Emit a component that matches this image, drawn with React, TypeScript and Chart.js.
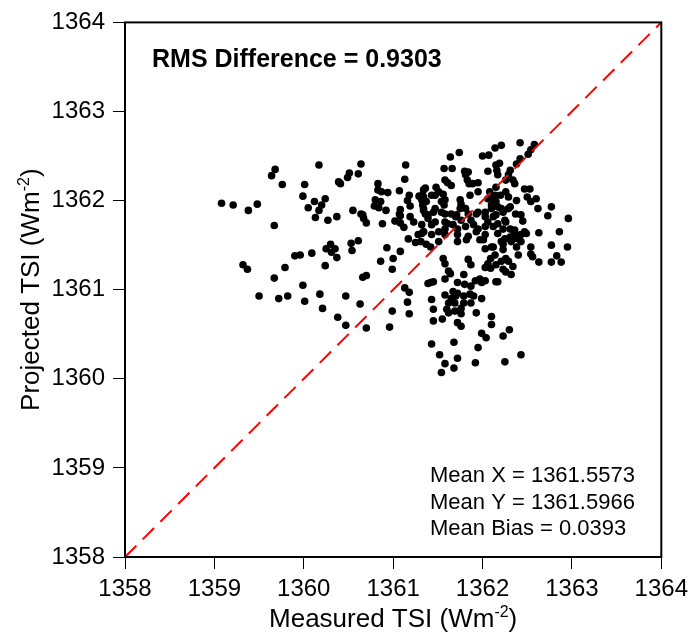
import React, { useEffect, useRef } from "react";
import { Chart, registerables } from "chart.js";

Chart.register(...registerables);

const measured: number[] = [
  1359.08, 1359.21, 1359.38, 1359.48, 1359.68, 1359.64, 1359.76, 1359.67, 1360.01, 1360.17,
  1359.99, 1360.12, 1360.24, 1360.20, 1360.05, 1360.17, 1360.13, 1360.27, 1360.37, 1359.90,
  1359.96, 1360.09, 1360.25, 1360.30, 1360.35, 1360.31, 1360.37, 1359.32, 1359.37, 1359.79,
  1360.24, 1359.67, 1359.99, 1359.50, 1359.72, 1359.82, 1360.18, 1360.01, 1360.21, 1360.38,
  1360.64, 1360.51, 1360.49, 1360.61, 1360.39, 1360.41, 1361.14, 1361.13, 1360.83, 1360.83,
  1360.87, 1360.94, 1361.07, 1361.18, 1361.29, 1361.33, 1360.80, 1360.86, 1361.16, 1360.79,
  1360.84, 1360.92, 1361.19, 1361.33, 1361.34, 1361.08, 1361.07, 1361.08, 1361.19, 1361.23,
  1361.36, 1360.55, 1360.64, 1360.66, 1360.67, 1360.70, 1360.88, 1361.02, 1361.08, 1361.12,
  1361.28, 1361.32, 1361.34, 1361.25, 1361.31, 1361.17, 1360.53, 1360.61, 1360.54, 1360.93,
  1361.08, 1361.00, 1360.86, 1360.99, 1360.66, 1360.70, 1361.39, 1361.13, 1361.18, 1360.47,
  1360.63, 1361.16, 1360.99, 1361.18, 1360.47, 1360.70, 1360.96, 1362.21, 1362.14, 1362.07,
  1362.00, 1361.74, 1361.64, 1362.19, 1362.15, 1362.16, 1362.17, 1361.57, 1361.66, 1361.80,
  1361.84, 1361.81, 1361.83, 1361.85, 1361.89, 1361.95, 1362.06, 1361.61, 1361.58, 1361.36,
  1361.34, 1361.48, 1361.51, 1361.47, 1361.43, 1361.86, 1361.95, 1362.08, 1362.14, 1362.11,
  1362.26, 1362.26, 1361.75, 1361.76, 1361.75, 1361.58, 1361.54, 1361.57, 1361.34, 1361.32,
  1361.37, 1362.15, 1362.17, 1361.47, 1361.45, 1361.54, 1361.58, 1361.34, 1361.65, 1361.71,
  1361.84, 1361.93, 1362.03, 1362.10, 1362.15, 1362.12,
  1361.39, 1361.47, 1361.43, 1361.58, 1361.61, 1361.58, 1361.67, 1361.72, 1361.76, 1361.87,
  1361.90, 1361.95, 1362.03, 1362.06, 1362.12, 1362.17, 1362.23, 1362.25,
  1361.34, 1361.43, 1361.51, 1361.58, 1361.72, 1361.84, 1361.93, 1362.03, 1362.17, 1362.25,
  1361.72, 1362.01, 1362.12, 1362.21, 1361.42, 1361.56, 1361.58, 1361.84, 1361.87, 1362.03,
  1362.14, 1362.09, 1362.06, 1362.03, 1362.09, 1362.15, 1362.21, 1362.23, 1362.26, 1362.26,
  1361.62, 1361.64, 1361.58, 1361.45, 1361.42, 1361.79, 1361.72, 1361.80, 1361.87, 1361.92,
  1361.97, 1361.99, 1362.03, 1362.15,
  1361.67, 1361.72, 1361.70, 1361.79, 1361.86, 1361.90, 1361.65, 1361.62, 1361.69, 1361.79,
  1361.87, 1361.99, 1361.43, 1361.58, 1361.45, 1361.60, 1361.62, 1361.69, 1361.76, 1361.76,
  1361.93, 1361.45, 1361.55, 1361.72, 1361.76, 1362.10, 1362.10, 1361.99, 1362.04, 1362.23,
  1362.30, 1361.43, 1361.68, 1361.95, 1361.52, 1361.58, 1361.72, 1361.68, 1361.54, 1361.92,
  1362.25, 1362.43,
  1362.42, 1362.58, 1362.54, 1362.51, 1362.42, 1362.38, 1362.31, 1362.29, 1362.34, 1362.36,
  1362.47, 1362.53, 1362.50, 1362.54, 1362.60, 1362.62, 1362.38, 1362.29, 1362.37, 1362.43,
  1362.23, 1362.77, 1362.73, 1362.96, 1362.26, 1362.36, 1362.45, 1362.43, 1362.47, 1362.63,
  1362.86, 1362.34, 1362.31, 1362.36, 1362.49, 1362.32, 1362.40, 1362.43, 1362.23, 1362.38,
  1362.40, 1362.54, 1362.54, 1362.56, 1362.77, 1362.95, 1362.83, 1362.88, 1362.77, 1362.63,
  1362.29, 1362.34, 1362.32, 1362.17,
  1361.65, 1362.15, 1361.56, 1362.06, 1362.20, 1362.29, 1361.81, 1361.95, 1362.10, 1362.21,
  1362.31, 1361.39, 1361.70, 1362.03, 1361.32, 1361.81, 1362.31, 1361.37, 1361.51, 1361.82,
  1361.97, 1362.10, 1362.23,
];

const projected: number[] = [
  1361.97, 1361.95, 1361.89, 1361.96, 1362.35, 1362.28, 1362.18, 1361.72, 1362.18, 1362.40,
  1362.05, 1361.99, 1362.02, 1361.95, 1361.92, 1361.89, 1361.81, 1361.78, 1361.82, 1361.38,
  1361.39, 1361.41, 1361.46, 1361.51, 1361.46, 1361.42, 1361.36, 1361.28, 1361.23, 1361.25,
  1361.27, 1361.13, 1361.05, 1360.93, 1360.90, 1360.93, 1360.95, 1360.87, 1360.79, 1360.69,
  1362.41, 1362.31, 1362.26, 1362.30, 1362.21, 1362.19, 1362.40, 1362.24, 1362.19, 1362.12,
  1362.10, 1362.09, 1362.11, 1362.06, 1362.05, 1362.06, 1362.01, 1361.99, 1362.00, 1361.94,
  1361.92, 1361.89, 1361.94, 1361.95, 1361.89, 1361.90, 1361.85, 1361.83, 1361.82, 1361.76,
  1361.85, 1361.89, 1361.85, 1361.84, 1361.80, 1361.75, 1361.74, 1361.77, 1361.75, 1361.70,
  1361.62, 1361.63, 1361.65, 1361.53, 1361.54, 1361.57, 1361.52, 1361.55, 1361.44, 1361.47,
  1361.43, 1361.35, 1361.32, 1361.23, 1361.14, 1361.16, 1361.07, 1361.02, 1360.97, 1360.93,
  1360.84, 1360.86, 1360.76, 1360.73, 1360.60, 1360.57, 1360.58, 1362.62, 1362.59, 1362.51,
  1362.50, 1362.54, 1362.49, 1362.42, 1362.40, 1362.34, 1362.29, 1362.36, 1362.36, 1362.33,
  1362.32, 1362.29, 1362.23, 1362.19, 1362.19, 1362.20, 1362.33, 1362.20, 1362.23, 1362.14,
  1362.12, 1362.15, 1362.10, 1362.06, 1362.06, 1362.06, 1362.10, 1362.10, 1362.06, 1362.02,
  1362.23, 1362.10, 1362.01, 1361.96, 1361.91, 1362.01, 1361.99, 1361.95, 1362.04, 1362.01,
  1361.99, 1361.99, 1361.93, 1361.91, 1361.87, 1361.87, 1361.85, 1361.91, 1361.85, 1361.84,
  1361.85, 1361.85, 1361.87, 1361.91, 1361.84, 1361.82,
  1361.80, 1361.76, 1361.73, 1361.76, 1361.74, 1361.68, 1361.73, 1361.68, 1361.78, 1361.78,
  1361.73, 1361.68, 1361.71, 1361.76, 1361.71, 1361.74, 1361.68, 1361.78,
  1361.65, 1361.62, 1361.65, 1361.62, 1361.62, 1361.60, 1361.65, 1361.62, 1361.63, 1361.57,
  1361.54, 1361.56, 1361.48, 1361.54, 1361.48, 1361.35, 1361.29, 1361.34, 1361.28, 1361.46,
  1361.39, 1361.35, 1361.29, 1361.25, 1361.24, 1361.28, 1361.32, 1361.23, 1361.35, 1361.20,
  1361.21, 1361.18, 1361.12, 1361.09, 1361.08, 1361.17, 1361.08, 1361.06, 1361.04, 1361.10,
  1361.12, 1361.08, 1361.10, 1361.09,
  1360.98, 1360.96, 1360.93, 1360.93, 1360.95, 1360.93, 1360.90, 1360.85, 1360.85, 1360.85,
  1360.85, 1360.90, 1360.89, 1360.94, 1360.78, 1360.78, 1360.74, 1360.76, 1360.79, 1360.73,
  1360.74, 1360.65, 1360.67, 1360.63, 1360.59, 1360.70, 1360.61, 1360.51, 1360.46, 1360.48,
  1360.55, 1360.39, 1360.41, 1360.35, 1360.27, 1360.17, 1360.23, 1360.12, 1360.07, 1360.18,
  1360.19, 1360.27,
  1362.65, 1362.63, 1362.57, 1362.52, 1362.47, 1362.41, 1362.34, 1362.29, 1362.23, 1362.19,
  1362.13, 1362.13, 1362.04, 1361.99, 1362.02, 1361.91, 1362.00, 1361.91, 1361.85, 1361.84,
  1361.87, 1361.93, 1361.83, 1361.80, 1361.76, 1361.67, 1361.77, 1361.62, 1361.65, 1361.64,
  1361.65, 1361.57, 1361.59, 1361.63, 1361.63, 1361.54, 1361.57, 1361.54, 1361.45, 1361.48,
  1361.39, 1361.48, 1361.40, 1361.37, 1361.50, 1361.48, 1361.38, 1361.31, 1361.31, 1361.31,
  1361.32, 1361.26, 1361.17, 1361.09,
  1362.17, 1362.15, 1362.07, 1362.02, 1362.06, 1362.04, 1361.91, 1361.87, 1361.95, 1361.91,
  1361.93, 1361.84, 1361.82, 1361.82, 1361.73, 1361.71, 1361.68, 1361.51, 1361.54, 1361.56,
  1361.56, 1361.48, 1361.51,
];

const axisMin = 1358;
const axisMax = 1364;
const rmsLabel = "RMS Difference = 0.9303";
const statLines = ["Mean X = 1361.5573", "Mean Y = 1361.5966", "Mean Bias = 0.0393"];
const xTitle = ["Measured TSI (Wm", "-2", ")"];
const yTitle = ["Projected TSI (Wm", "-2", ")"];

const FONT = "'Liberation Sans', Arial, Helvetica, sans-serif";

function drawSupText(ctx: CanvasRenderingContext2D, parts: string[], cx: number, cy: number, size: number) {
  const big = `${size}px ${FONT}`;
  const small = `${Math.round(size * 0.62)}px ${FONT}`;
  ctx.font = big;
  const w0 = ctx.measureText(parts[0]).width;
  const w2 = ctx.measureText(parts[2]).width;
  ctx.font = small;
  const w1 = ctx.measureText(parts[1]).width;
  const total = w0 + w1 + w2;
  let x = cx - total / 2;
  ctx.textAlign = "left";
  ctx.textBaseline = "alphabetic";
  ctx.font = big;
  ctx.fillText(parts[0], x, cy);
  x += w0;
  ctx.font = small;
  ctx.fillText(parts[1], x, cy - size * 0.4);
  x += w1;
  ctx.font = big;
  ctx.fillText(parts[2], x, cy);
}

const decorPlugin = {
  id: "decor",
  afterDraw(chart: any) {
    const { ctx, chartArea: a } = chart;
    ctx.save();
    ctx.strokeStyle = "#000";
    ctx.lineWidth = 2;
    ctx.strokeRect(a.left, a.top, a.right - a.left, a.bottom - a.top);
    ctx.fillStyle = "#000";
    ctx.font = `bold 25px ${FONT}`;
    ctx.textAlign = "left";
    ctx.textBaseline = "alphabetic";
    ctx.fillText(rmsLabel, a.left + 27, a.top + 45);
    ctx.font = `22px ${FONT}`;
    statLines.forEach((s, i) => {
      ctx.fillText(s, a.left + 305, a.top + 460 + i * 26.5);
    });
    drawSupText(ctx, xTitle, (a.left + a.right) / 2, 627, 26);
    ctx.save();
    ctx.translate(39, (a.top + a.bottom) / 2);
    ctx.rotate(-Math.PI / 2);
    drawSupText(ctx, yTitle, 0, 0, 26);
    ctx.restore();
    ctx.restore();
  },
};

export default function App() {
  const ref = useRef<HTMLCanvasElement | null>(null);
  useEffect(() => {
    if (!ref.current) return;
    const points = measured.map((x, i) => ({ x, y: projected[i] }));
    const tickFont = { family: FONT, size: 24 };
    const fmt = (v: any) => String(v);
    const chart = new Chart(ref.current, {
      type: "scatter",
      data: {
        datasets: [
          {
            type: "line",
            data: [
              { x: axisMin, y: axisMin },
              { x: axisMax, y: axisMax },
            ],
            borderColor: "#ff0000",
            borderWidth: 2,
            borderDash: [16, 9],
            pointRadius: 0,
            fill: false,
            order: 0,
          } as any,
          {
            data: points,
            backgroundColor: "#000",
            borderWidth: 0,
            pointRadius: 3.8,
            order: 1,
          },
        ],
      },
      options: {
        responsive: false,
        animation: false,
        layout: { padding: { top: 19, right: 29, left: 0, bottom: 0 } },
        plugins: { legend: { display: false }, tooltip: { enabled: false } },
        scales: {
          x: {
            type: "linear",
            min: axisMin,
            max: axisMax,
            border: { display: false },
            grid: { drawOnChartArea: false, drawTicks: true, tickLength: 12, tickColor: "#000", lineWidth: 1 },
            ticks: { stepSize: 1, color: "#000", font: tickFont, padding: 6, maxRotation: 0, callback: fmt },
            afterFit: (s: any) => {
              s.height = 77;
            },
          },
          y: {
            type: "linear",
            min: axisMin,
            max: axisMax,
            border: { display: false },
            grid: { drawOnChartArea: false, drawTicks: true, tickLength: 12, tickColor: "#000", lineWidth: 1 },
            ticks: { stepSize: 1, color: "#000", font: tickFont, padding: 8, callback: fmt },
            afterFit: (s: any) => {
              s.width = 125;
            },
          },
        },
      },
      plugins: [decorPlugin],
    });
    return () => chart.destroy();
  }, []);
  return (
    <div style={{ position: "fixed", left: 0, top: 0, width: 694, height: 634, background: "#fff" }}>
      <canvas ref={ref} width={694} height={634} />
    </div>
  );
}
